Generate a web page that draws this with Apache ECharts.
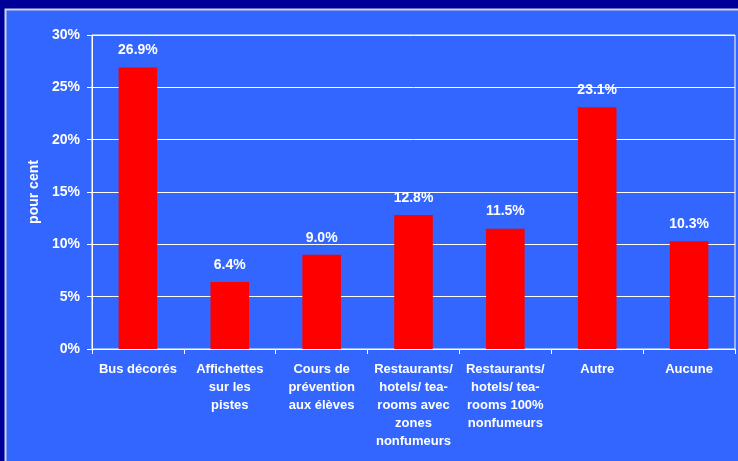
<!DOCTYPE html>
<html>
<head>
<meta charset="utf-8">
<script src="https://cdn.jsdelivr.net/npm/echarts@6/dist/echarts.min.js"></script>
<style>
  html, body { margin: 0; padding: 0; background: #000099; }
  #chart { width: 738px; height: 461px; }
</style>
</head>
<body>
<div id="chart"></div>
<script>
// Measures mentioned by respondents (share in per cent)
const categories = [
  'Bus décorés',
  'Affichettes\nsur les\npistes',
  'Cours de\nprévention\naux élèves',
  'Restaurants/\nhotels/ tea-\nrooms avec\nzones\nnonfumeurs',
  'Restaurants/\nhotels/ tea-\nrooms 100%\nnonfumeurs',
  'Autre',
  'Aucune'
];
const values = [26.9, 6.4, 9.0, 12.8, 11.5, 23.1, 10.3];
const yTicks = [0, 5, 10, 15, 20, 25, 30];

const font = 'Arial, "Liberation Sans", sans-serif';
const chart = echarts.init(document.getElementById('chart'), null, { renderer: 'canvas' });

chart.setOption({
  animation: false,
  backgroundColor: '#000099',
  graphic: [{
    type: 'rect',
    z: -10,
    shape: { x: 5.5, y: 9.5, width: 760, height: 480 },
    style: { fill: '#3366ff', stroke: '#d0d4e8', lineWidth: 2 }
  }],
  grid: {
    left: 92, right: 3, top: 35, bottom: 112,
    show: true, borderColor: '#ffffff', borderWidth: 1,
    backgroundColor: 'transparent'
  },
  xAxis: {
    type: 'category',
    data: categories,
    boundaryGap: true,
    axisLine: { lineStyle: { color: '#ffffff', width: 1 } },
    axisTick: { show: true, length: 5, lineStyle: { color: '#ffffff' } },
    axisLabel: {
      interval: 0,
      color: '#ffffff',
      fontFamily: font,
      fontWeight: 'bold',
      fontSize: 13,
      lineHeight: 18,
      margin: 11,
      align: 'center'
    }
  },
  yAxis: {
    type: 'value',
    min: yTicks[0],
    max: yTicks[yTicks.length - 1],
    interval: 5,
    name: 'pour cent',
    nameLocation: 'middle',
    nameGap: 48,
    nameRotate: 90,
    nameTextStyle: { color: '#ffffff', fontFamily: font, fontWeight: 'bold', fontSize: 14 },
    axisLine: { show: true, lineStyle: { color: '#ffffff', width: 1 } },
    axisTick: { show: true, length: 5, lineStyle: { color: '#ffffff' } },
    axisLabel: {
      color: '#ffffff',
      fontFamily: font,
      fontWeight: 'bold',
      fontSize: 14,
      margin: 12,
      formatter: v => v + '%'
    },
    splitLine: { show: true, lineStyle: { color: '#ffffff', width: 1 } }
  },
  series: [{
    type: 'bar',
    data: values,
    barWidth: '42%',
    itemStyle: { color: '#ff0000' },
    label: {
      show: true,
      position: 'top',
      distance: 10,
      color: '#ffffff',
      fontFamily: font,
      fontWeight: 'bold',
      fontSize: 14,
      formatter: p => p.value.toFixed(1) + '%'
    }
  }]
});
</script>
</body>
</html>
